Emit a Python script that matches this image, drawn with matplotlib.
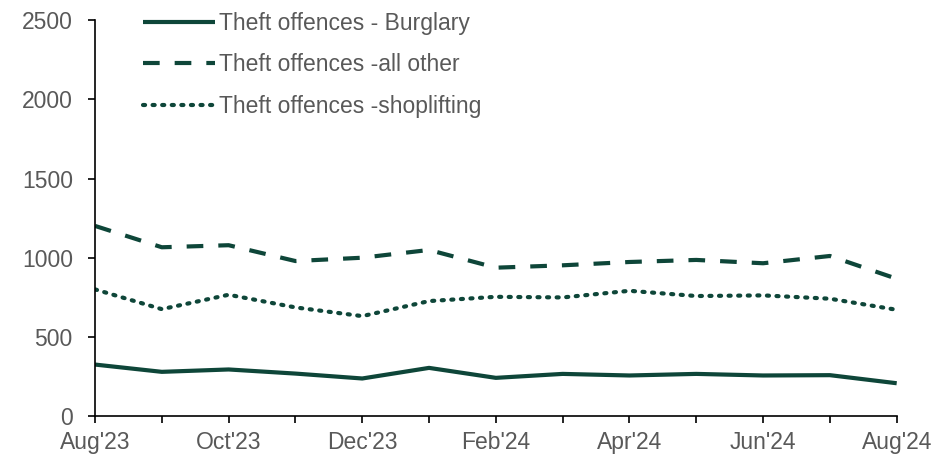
import matplotlib
matplotlib.use("Agg")
import matplotlib.pyplot as plt

plt.rcParams['font.family'] = ['Liberation Sans', 'DejaVu Sans']

months = ["Aug'23", "Sep'23", "Oct'23", "Nov'23", "Dec'23", "Jan'24", "Feb'24",
          "Mar'24", "Apr'24", "May'24", "Jun'24", "Jul'24", "Aug'24"]
burglary = [325, 279, 294, 268, 237, 304, 241, 266, 256, 266, 256, 258, 207]
all_other = [1201, 1066, 1079, 979, 1000, 1049, 937, 952, 973, 986, 965, 1011, 867]
shoplifting = [800, 675, 766, 686, 631, 726, 753, 749, 791, 758, 762, 741, 671]

col = '#0e4639'
txt = '#595959'
fs = 16.5

fig = plt.figure(figsize=(9.51, 4.58), dpi=100)
ax = fig.add_axes([0.0999, 0.0917, 0.843, 0.864])

x = range(len(months))
ax.plot(x, burglary, color=col, lw=3.0, solid_capstyle='butt', label='Theft offences - Burglary')
ax.plot(x, all_other, color=col, lw=3.0, dashes=(4.0, 3.6), label='Theft offences -all other')
ax.plot(x, shoplifting, color=col, lw=3.0, dashes=(0.5, 1.8), dash_capstyle='round',
        label='Theft offences -shoplifting')

ax.set_xlim(0, len(months) - 1)
ax.set_ylim(0, 2500)
ax.set_yticks(range(0, 2501, 500))
ax.set_xticks(list(x))
ax.set_xticklabels([m if i % 2 == 0 else '' for i, m in enumerate(months)])

for s in ['top', 'right']:
    ax.spines[s].set_visible(False)
for s in ['left', 'bottom']:
    ax.spines[s].set_color('black')
    ax.spines[s].set_linewidth(1.2)
ax.tick_params(axis='both', direction='out', length=5, width=1.2, color='black',
               labelcolor=txt, labelsize=fs)
ax.tick_params(axis='y', pad=11)
ax.tick_params(axis='x', pad=6)

leg = ax.legend(loc='upper left', bbox_to_anchor=(0.034, 1.073), frameon=False,
                fontsize=fs, labelcolor=txt, handlelength=3.15, handletextpad=0.15,
                labelspacing=0.8)

fig.savefig('out.png', dpi=100)
